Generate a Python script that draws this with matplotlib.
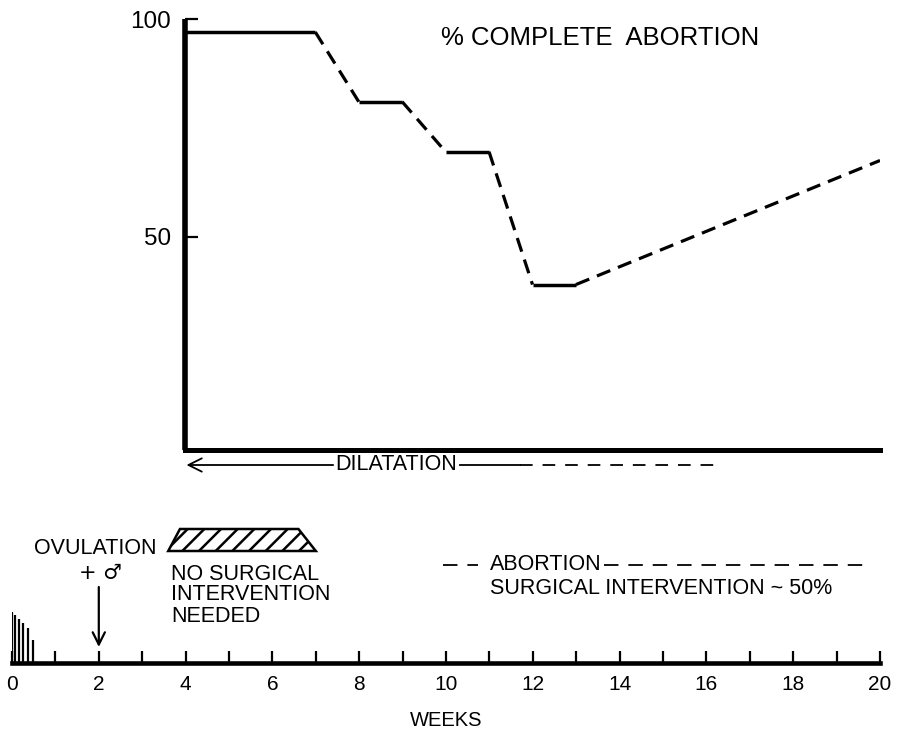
import matplotlib
matplotlib.use("Agg")
import matplotlib.pyplot as plt
from matplotlib.patches import Polygon
from matplotlib.ticker import MultipleLocator, FixedLocator

plt.rcParams['font.family'] = ['Liberation Sans', 'DejaVu Sans']
plt.rcParams['hatch.linewidth'] = 1.8

# ---- data ----
weeks = [4, 7, 8, 9, 10, 11, 12, 13, 20]
complete_pct = [97, 97, 81, 81, 69.5, 69.5, 39, 39, 67.5]
y_ticks = [50, 100]
x_ticks = [0, 2, 4, 6, 8, 10, 12, 14, 16, 18, 20]

menses_weeks = [0, 0.08, 0.17, 0.26, 0.37, 0.49]
menses_heights = [51, 48, 44, 40, 35, 23]
ovulation_week = 2

no_surgery_bottom = [3.6, 7.0]
no_surgery_top = [3.87, 6.6]

dilatation_arrow = [4.02, 7.4]
dilatation_solid = [10.32, 11.7]
dilatation_dashed = [11.7, 16.3]
abortion_dash_before = [9.93, 10.74]
abortion_dash_after = [13.65, 19.65]

W, H = 898, 731
fig = plt.figure(figsize=(W / 100, H / 100), dpi=100)

# ---- upper chart ----
ax = fig.add_axes([185 / W, 1 - 450 / H, 695 / W, 431 / H])
ax.set_xlim(4, 20)
ax.set_ylim(1, 100)
for s in ['top', 'right']:
    ax.spines[s].set_visible(False)
ax.spines['left'].set_linewidth(4.0)
ax.spines['bottom'].set_linewidth(3.6)
ax.spines['left'].set_capstyle('butt')
ax.set_xticks([])
ax.yaxis.set_major_locator(FixedLocator(y_ticks))
ax.tick_params(axis='y', direction='in', length=9, width=1.6, pad=10, labelsize=17.5)

for i in range(len(weeks) - 1):
    flat = complete_pct[i] == complete_pct[i + 1]
    ax.plot(weeks[i:i + 2], complete_pct[i:i + 2], color='black',
            lw=2.5 if flat else 2.3,
            linestyle='-' if flat else (0, (4.5, 2.6)),
            solid_capstyle='butt', dash_capstyle='butt')

ax.text(13.55, 95.6, '% COMPLETE  ABORTION', ha='center', va='center', fontsize=18.5)

# ---- lower timeline ----
bx = fig.add_axes([12 / W, 1 - 663 / H, 868 / W, 223 / H])
bx.set_xlim(0, 20)
bx.set_ylim(0, 223)
for s in ['top', 'right', 'left']:
    bx.spines[s].set_visible(False)
bx.spines['bottom'].set_linewidth(3.3)
bx.set_yticks([])
bx.xaxis.set_major_locator(FixedLocator(x_ticks))
bx.xaxis.set_minor_locator(MultipleLocator(1))
bx.tick_params(axis='x', which='both', direction='in', length=9, width=1.6)
bx.tick_params(axis='x', which='major', pad=9, labelsize=15)
bx.patch.set_alpha(0)

bx.vlines(menses_weeks, 0, menses_heights, color='black', lw=1.6)

bx.annotate('', xy=(ovulation_week, 16), xytext=(ovulation_week, 76),
            arrowprops=dict(arrowstyle='->', lw=1.6, color='black',
                            mutation_scale=22, shrinkA=0, shrinkB=0))
bx.text(ovulation_week - 0.09, 114, 'OVULATION', ha='center', va='center', fontsize=15.5)
bx.text(ovulation_week + 0.03, 90, '+ \u2642', ha='center', va='center', fontsize=15,
        family=['DejaVu Sans'])

poly = Polygon([(no_surgery_bottom[0], 112), (no_surgery_top[0], 134),
                (no_surgery_top[1], 134), (no_surgery_bottom[1], 112)],
               closed=True, facecolor='white', edgecolor='black', lw=1.8, hatch='//')
bx.add_patch(poly)
bx.text(no_surgery_bottom[0] + 0.06, 68, 'NO SURGICAL\nINTERVENTION\nNEEDED',
        ha='left', va='center', fontsize=15.5, linespacing=1.0)

# dilatation row
bx.annotate('', xy=(dilatation_arrow[0], 198), xytext=(dilatation_arrow[1], 198),
            arrowprops=dict(arrowstyle='->', lw=1.3, color='black',
                            mutation_scale=24, shrinkA=0, shrinkB=0))
bx.text(8.85, 198, 'DILATATION', ha='center', va='center', fontsize=15.5)
bx.plot(dilatation_solid, [198, 198], color='black', lw=1.3)
bx.plot(dilatation_dashed, [198, 198], color='black', lw=1.3, linestyle=(0, (7, 5.5)))

# abortion row
bx.plot(abortion_dash_before, [98, 98], color='black', lw=1.3, linestyle=(0, (8, 5.5)))
bx.text(11.01, 98, 'ABORTION', ha='left', va='center', fontsize=15.5)
bx.plot(abortion_dash_after, [98, 98], color='black', lw=1.3, linestyle=(0, (8, 5.5)))
bx.text(11.01, 74, 'SURGICAL INTERVENTION ~ 50%', ha='left', va='center', fontsize=15.5)

bx.text(10, -57, 'WEEKS', ha='center', va='center', fontsize=14.5, clip_on=False)

fig.savefig('out.png', dpi=100)
